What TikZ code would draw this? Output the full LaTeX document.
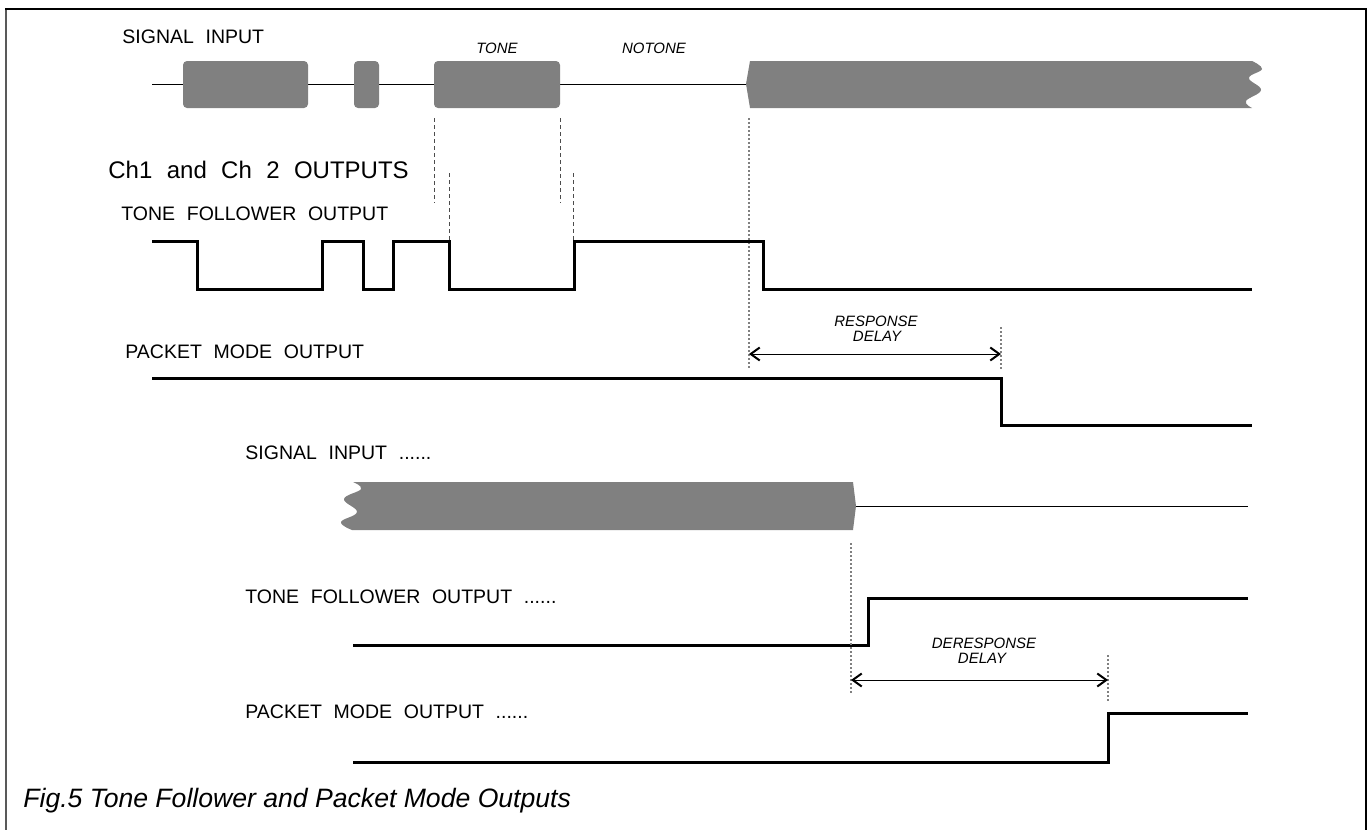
\documentclass[tikz,border=0pt]{standalone}
\usepackage{fontspec}
\setmainfont{Liberation Sans}
\usetikzlibrary{arrows.meta}
\newcommand\lblfnt{\fontsize{9.75}{11}\selectfont\spaceskip 0.6em\relax}
\newcommand\bigfnt{\fontsize{12}{14}\selectfont\spaceskip 0.6em\relax}
\begin{document}
\begin{tikzpicture}[x=0.5pt,y=-0.5pt,
  lbl/.style={anchor=base west,inner sep=0pt,font=\lblfnt},
  biglbl/.style={anchor=base west,inner sep=0pt,font=\bigfnt},
  capstyle/.style={anchor=base west,inner sep=0pt,font=\fontsize{13.3}{15}\selectfont\itshape},
  small/.style={anchor=base,inner sep=0pt,font=\fontsize{7.5}{8.5}\selectfont\itshape},
  wave/.style={line width=1.5pt,line join=miter},
  sig/.style={line width=0.5pt},
  blk/.style={fill=gray,draw=none,rounded corners=2pt},
  guide/.style={gray,line width=0.6pt,dash pattern=on 1pt off 1pt},
  tick/.style={black!70,line width=0.4pt,dash pattern=on 2pt off 1.5pt},
  dly/.style={line width=0.5pt,{Straight Barb[length=4.5pt,width=6.5pt,line width=1pt]}-{Straight Barb[length=4.5pt,width=6.5pt,line width=1pt]}}]
\useasboundingbox (0,0) rectangle (1370,830);
% frame
\draw[gray!70!black,line width=1pt] (6,9) -- (6,830);
\draw[line width=1pt] (5,9) -- (1366,9) -- (1366,830);

% ===== top section =====
\node[lbl] (sigin) at (122,43) {SIGNAL INPUT};
\node[small] (tone) at (497,53) {TONE};
\node[small] (notone) at (654,53) {NOTONE};
\draw[sig] (152,84) -- (750,84);
\fill[blk] (183,61) rectangle (308,108);
\fill[blk] (354,61) rectangle (379,108);
\fill[blk] (434,61) rectangle (560,108);
\fill[gray] (750,61) -- (746,84) -- (750,108) -- (1252,108)
  -- plot[smooth,tension=0.7] coordinates {(1252,108) (1246,101) (1261,90) (1249,78) (1262,69) (1252,61)}
  -- cycle;

\coordinate (g1a) at (434,118); \coordinate (g1b) at (434,203);
\coordinate (g2a) at (560,118); \coordinate (g2b) at (560,203);
\coordinate (g3a) at (749,118); \coordinate (g3b) at (749,370);
\coordinate (g4a) at (449,173); \coordinate (g4b) at (449,240);
\coordinate (g5a) at (573,173); \coordinate (g5b) at (573,240);
\draw[tick] (g1a) -- (g1b);
\draw[tick] (g2a) -- (g2b);
\draw[guide] (g3a) -- (g3b);
\draw[tick] (g4a) -- (g4b);
\draw[tick] (g5a) -- (g5b);

\node[biglbl] (ch) at (108,178) {Ch1 and Ch 2 OUTPUTS};
\node[lbl] (tfo) at (121,220) {TONE FOLLOWER OUTPUT};
\draw[wave] (152,241) -- (197,241) -- (197,289) -- (322,289) -- (322,241)
  -- (363,241) -- (363,289) -- (393,289) -- (393,241) -- (449,241)
  -- (449,289) -- (574,289) -- (574,241) -- (763,241) -- (763,289) -- (1252,289);

\node[lbl] (pmo) at (125,358) {PACKET MODE OUTPUT};
\draw[wave] (152,378) -- (1001,378) -- (1001,425) -- (1252,425);
\node[small] (resp) at (876,326) {RESPONSE};
\node[small] (delay1) at (877,341) {DELAY};
\coordinate (r1) at (749,354); \coordinate (r2) at (1001,354);
\coordinate (g6a) at (1001,327); \coordinate (g6b) at (1001,369);
\draw[guide] (g6a) -- (g6b);
\draw[dly] (r1) -- (r2);

% ===== bottom section =====
\node[lbl] (sigin2) at (245,459) {SIGNAL INPUT ......};
\fill[gray] (353,482) -- (853,482) -- (856,506) -- (853,530) -- (352,530)
  -- plot[smooth,tension=0.7] coordinates {(352,530) (341,522) (357,512) (344,499) (361,489) (353,482)}
  -- cycle;
\draw[sig] (856,506) -- (1248,506);

\node[lbl] (tfo2) at (245,603) {TONE FOLLOWER OUTPUT ......};
\draw[wave] (353,645) -- (868,645) -- (868,598) -- (1248,598);

\coordinate (g7a) at (851,543); \coordinate (g7b) at (851,695);
\coordinate (g8a) at (1108,655); \coordinate (g8b) at (1108,702);
\draw[guide] (g7a) -- (g7b);
\draw[guide] (g8a) -- (g8b);
\node[small] (dresp) at (984,648) {DERESPONSE};
\node[small] (delay2) at (982,663) {DELAY};
\coordinate (d1) at (851,680); \coordinate (d2) at (1108,680);
\draw[dly] (d1) -- (d2);

\node[lbl] (pmo2) at (245,718) {PACKET MODE OUTPUT ......};
\draw[wave] (353,762) -- (1108,762) -- (1108,713) -- (1248,713);

\node[capstyle] (caption) at (23,807) {Fig.5 Tone Follower and Packet Mode Outputs};
\end{tikzpicture}
\end{document}
